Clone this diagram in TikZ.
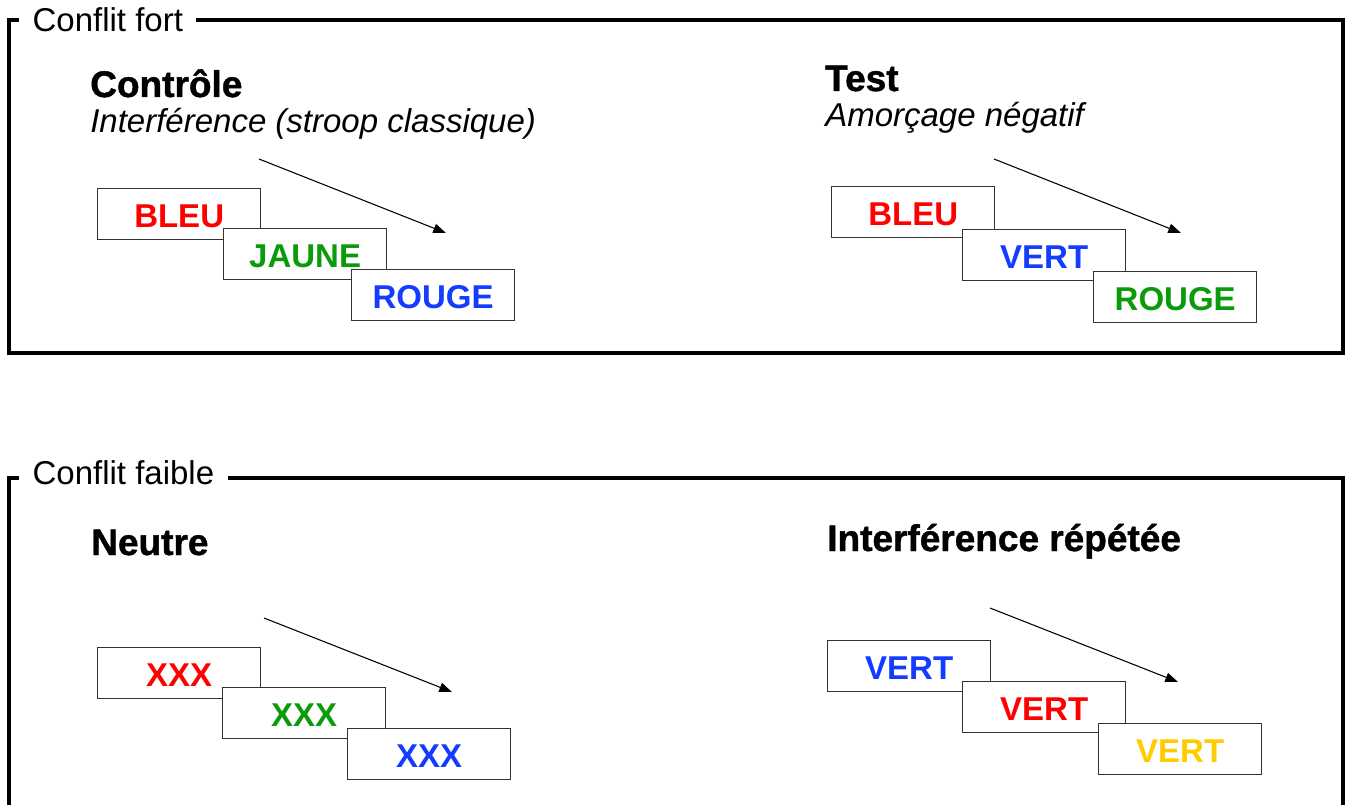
\documentclass[tikz,border=0pt]{standalone}
\usepackage{fontspec}
\setmainfont{Liberation Sans}
\newfontfamily\heavyfont{Liberation Sans}[BoldFeatures={FakeBold=1.2}]
\usetikzlibrary{arrows.meta}
\definecolor{wred}{RGB}{255,0,0}
\definecolor{wgreen}{RGB}{10,155,10}
\definecolor{wblue}{RGB}{20,60,255}
\definecolor{wyellow}{RGB}{255,204,0}
\tikzset{
  panel/.style={line width=2.4pt},
  panellabel/.style={fill=white, inner xsep=10pt, inner ysep=0pt, anchor=base west,
    font=\fontsize{24.75}{28}\selectfont},
  heading/.style={anchor=base west, inner sep=0pt,
    font=\heavyfont\bfseries\fontsize{27.75}{32}\selectfont},
  subheading/.style={anchor=base west, inner sep=0pt,
    font=\itshape\fontsize{24.75}{28}\selectfont},
  word/.style={draw=black!80, fill=white, line width=1pt, anchor=north west,
    minimum width=122.25pt, minimum height=38.25pt, inner sep=0pt,
    text height=20.7pt, text depth=0pt,
    font=\bfseries\fontsize{24.75}{28}\selectfont},
  seq/.style={-{Triangle[length=9.5pt,width=7pt]}, line width=0.8pt},
}
\begin{document}
\begin{tikzpicture}[x=0.75pt, y=-0.75pt]
      \useasboundingbox (0,0) rectangle (1351,805);
      %
      \draw[panel] (9,20) rectangle (1343,353);              % strong conflict frame
      \node[panellabel] (fort) at (19,32) {Conflit fort};
      %
      \draw[panel] (9,805) -- (9,478) -- (1343,478) -- (1343,805); % weak conflict frame
      \node[panellabel] (faible) at (19,484) {Conflit faible};
      %
      \node[heading] (ctrl) at (90,97) {Contrôle};            % control
      \node[subheading] (ctrlsub) at (90,133) {Interférence (stroop classique)};
      \coordinate (cs) at (259,159);
      \coordinate (ce) at (446,233);
      \draw[seq] (cs) -- (ce);
      \node[word, text=wred] (c1) at (97,188) {BLEU};
      \node[word, text=wgreen] (c2) at (223,228) {JAUNE};
      \node[word, text=wblue] (c3) at (351,269) {ROUGE};
      %%
      \node[heading] (test) at (825,91) {Test};                % test
      \node[subheading] (testsub) at (825,127) {Amorçage négatif};
      \coordinate (ts) at (994,159);
      \coordinate (te) at (1181,233);
      \draw[seq] (ts) -- (te);
      \node[word, text=wred] (t1) at (831,186) {BLEU};
      \node[word, text=wblue] (t2) at (962,229) {VERT};
      \node[word, text=wgreen] (t3) at (1093,271) {ROUGE};
      %
      \node[heading] (neut) at (91,555) {Neutre};              % neutral
      \coordinate (ns) at (264,618);
      \coordinate (ne) at (452,692);
      \draw[seq] (ns) -- (ne);
      \node[word, text=wred] (n1) at (97,647) {XXX};
      \node[word, text=wgreen] (n2) at (222,687) {XXX};
      \node[word, text=wblue] (n3) at (347,728) {XXX};
      %%
      \node[heading] (rep) at (827,551) {Interférence répétée}; % repeated
      \coordinate (rs) at (990,608);
      \coordinate (re) at (1178,682);
      \draw[seq] (rs) -- (re);
      \node[word, text=wblue] (r1) at (827,640) {VERT};
      \node[word, text=wred] (r2) at (962,681) {VERT};
      \node[word, text=wyellow] (r3) at (1098,723) {VERT};
      %
    \end{tikzpicture}
\end{document}
